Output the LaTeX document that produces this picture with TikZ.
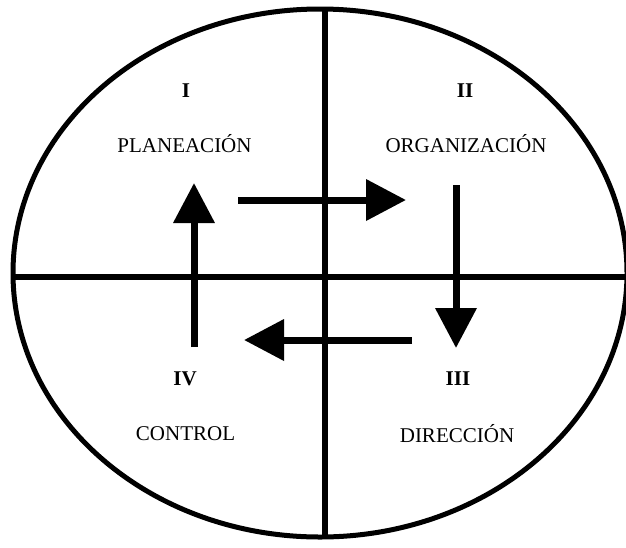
\documentclass[tikz,border=0pt]{standalone}
\usepackage{fontspec}
\setmainfont{Liberation Serif}
\usetikzlibrary{arrows.meta, positioning}

\begin{document}
\begin{tikzpicture}[
        x=1pt, y=-1pt,
        frame/.style={draw=black, line width=5pt},
        divider/.style={draw=black, line width=5.5pt},
        flow/.style={-{Triangle[length=40pt, width=40pt]}, line width=7pt, draw=black},
        numeral/.style={font=\fontsize{21}{25}\selectfont\bfseries, anchor=base, inner sep=0pt},
        phase/.style={font=\fontsize{21}{25}\selectfont, anchor=base, inner sep=0pt}
    ]
        \useasboundingbox (0,0) rectangle (626,547);
        % outline and quadrants
        \draw[frame] (320,273) ellipse [x radius=307pt, y radius=264pt];
        \draw[divider] (325,9) -- (325,539);
        \draw[divider] (15,277) -- (626,277);
        % quadrant labels
        \node[numeral] (num1) at (186,97) {I};
        \node[numeral] (num2) at (465,97) {II};
        \node[numeral] (num3) at (458,385) {III};
        \node[numeral] (num4) at (185,385) {IV};
        \node[phase] (plan) at (184.5,152) {PLANEACIÓN};
        \node[phase] (org) at (466,152) {ORGANIZACIÓN};
        \node[phase] (dir) at (457,442) {DIRECCIÓN};
        \node[phase] (ctrl) at (185.5,440) {CONTROL};
        % cycle arrows
        \coordinate (upS) at (194,347);
        \coordinate (upE) at (194,183);
        \coordinate (rightS) at (238,200);
        \coordinate (rightE) at (406,200);
        \coordinate (downS) at (456,185);
        \coordinate (downE) at (456,348);
        \coordinate (leftS) at (412,340);
        \coordinate (leftE) at (244,340);
        \draw[flow] (upS) -- (upE);
        \draw[flow] (rightS) -- (rightE);
        \draw[flow] (downS) -- (downE);
        \draw[flow] (leftS) -- (leftE);
    \end{tikzpicture}
\end{document}
